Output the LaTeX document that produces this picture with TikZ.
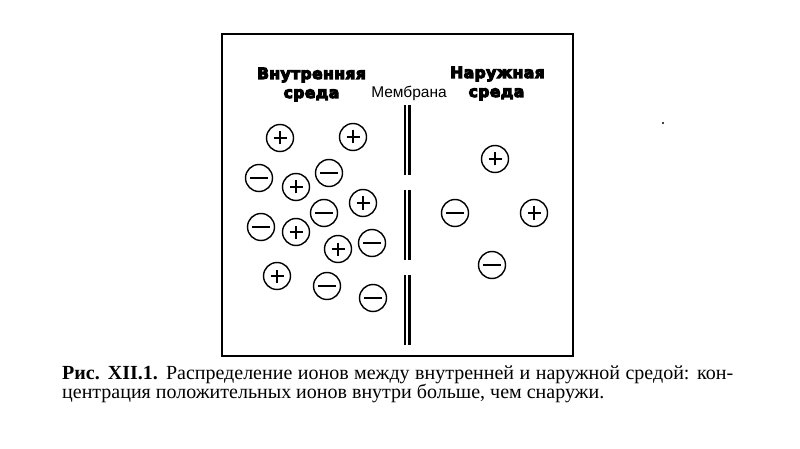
\documentclass[tikz,border=0pt]{standalone}
\usepackage{fontspec}
\setmainfont{Liberation Serif}
\newfontfamily\hdfont{DejaVu Sans}[UprightFont={* Bold},FakeBold=7,LetterSpace=3]
\newfontfamily\membfont{Liberation Sans}
\begin{document}
\begin{tikzpicture}[x=1pt,y=-1pt,
  ion/.style={circle,draw,line width=1.4pt,minimum size=27pt,inner sep=0pt},
  plusion/.style={ion,path picture={
      \draw[line width=2.8pt] (path picture bounding box.center) ++(-6.5pt,0) -- ++(13pt,0);
      \draw[line width=2.8pt] (path picture bounding box.center) ++(0,-6.5pt) -- ++(0,13pt);}},
  minusion/.style={ion,path picture={
      \draw[line width=2.3pt] (path picture bounding box.center) ++(-9pt,0) -- ++(18pt,0);}},
  hd/.style={anchor=base,inner sep=0pt,font=\hdfont\fontsize{15.5}{16}\selectfont},
  memb/.style={line width=2.4pt},
  captext/.style={anchor=base west,inner sep=0pt,font=\fontsize{20}{20}\selectfont}]
\useasboundingbox (0,0) rectangle (800,449);
\fill[white] (0,0) rectangle (800,449);
% frame
\draw[line width=1.6pt] (222,34) rectangle (573,356);
% headings
\node[hd] (in1) at (311.5,79) {Внутренняя};
\node[hd] (in2) at (311.5,98) {среда};
\node[hd] (out1) at (497.5,78) {Наружная};
\node[hd] (out2) at (496.5,97) {среда};
\node[anchor=base,inner sep=0pt,font=\membfont\fontsize{15.5}{16}\selectfont] (mem) at (409,98) {Мембрана};
% membrane
\foreach \a/\b in {105/175,190/260,275/345}{
  \draw[memb] (404.7,\a) -- (404.7,\b);
  \draw[memb] (409.3,\a) -- (409.3,\b);
}
% inner ions
\node[plusion] (p1) at (280,138) {};
\node[plusion] (p2) at (353,137) {};
\node[minusion] (m1) at (259,178) {};
\node[plusion] (p3) at (296,187) {};
\node[minusion] (m2) at (329,173) {};
\node[minusion] (m3) at (324,213) {};
\node[plusion] (p4) at (363,203) {};
\node[minusion] (m4) at (261,227) {};
\node[plusion] (p5) at (296,232) {};
\node[plusion] (p6) at (338,249) {};
\node[minusion] (m5) at (372,243) {};
\node[plusion] (p7) at (277,276) {};
\node[minusion] (m6) at (327,286) {};
\node[minusion] (m7) at (373,298) {};
% outer ions
\node[plusion] (q1) at (495,159) {};
\node[minusion] (n1) at (455,213) {};
\node[plusion] (q2) at (534,213) {};
\node[minusion] (n2) at (492,265) {};
% speck
\fill (663,123) circle (1.2pt);
% caption
\node[captext] (cap1) at (62,379) {\makebox[671pt][s]{\textbf{Рис. XII.1.} Распределение ионов между внутренней и наружной средой: кон-}};
\node[captext] (cap2) at (62,398) {центрация положительных ионов внутри больше, чем снаружи.};
\end{tikzpicture}
\end{document}
